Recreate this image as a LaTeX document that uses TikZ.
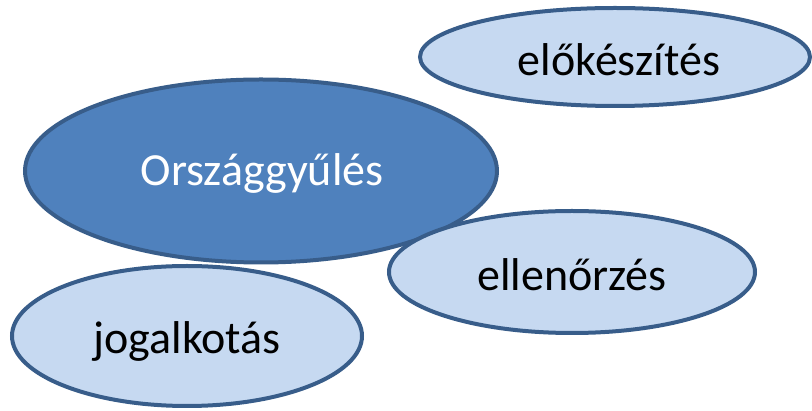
\documentclass[tikz,border=0pt]{standalone}
\usepackage{fontspec}
\setmainfont{Carlito}
\usetikzlibrary{shapes.geometric}
\definecolor{darkfill}{HTML}{4F81BD}
\definecolor{lightfill}{HTML}{C6D9F1}
\definecolor{edge}{HTML}{385D8A}
\begin{document}
\begin{tikzpicture}[x=1pt,y=-1pt,
  blob/.style={ellipse, draw=edge, line width=4pt, inner sep=0pt, font=\fontsize{46}{50}\selectfont},
  darkblob/.style={blob, fill=darkfill, text=white},
  lightblob/.style={blob, fill=lightfill, text=black},
  lbl/.style={font=\fontsize{46}{50}\selectfont, inner sep=0pt}]
\useasboundingbox (0,0) rectangle (812,411);
\node[darkblob, minimum width=472pt, minimum height=183pt] (orsz) at (261,171) {};
\node[lbl, text=white] (orszt) at (262,173) {Országgyűlés};
\node[lightblob, minimum width=390pt, minimum height=98pt] (elo) at (615,57) {};
\node[lbl] (elot) at (619,60) {előkészítés};
\node[lightblob, minimum width=366pt, minimum height=122pt] (ell) at (572,272) {};
\node[lbl] (ellt) at (572,275) {ellenőrzés};
\node[lightblob, minimum width=350pt, minimum height=140pt] (jog) at (187,336) {};
\node[lbl] (jogt) at (187,341) {jogalkotás};
\end{tikzpicture}
\end{document}
